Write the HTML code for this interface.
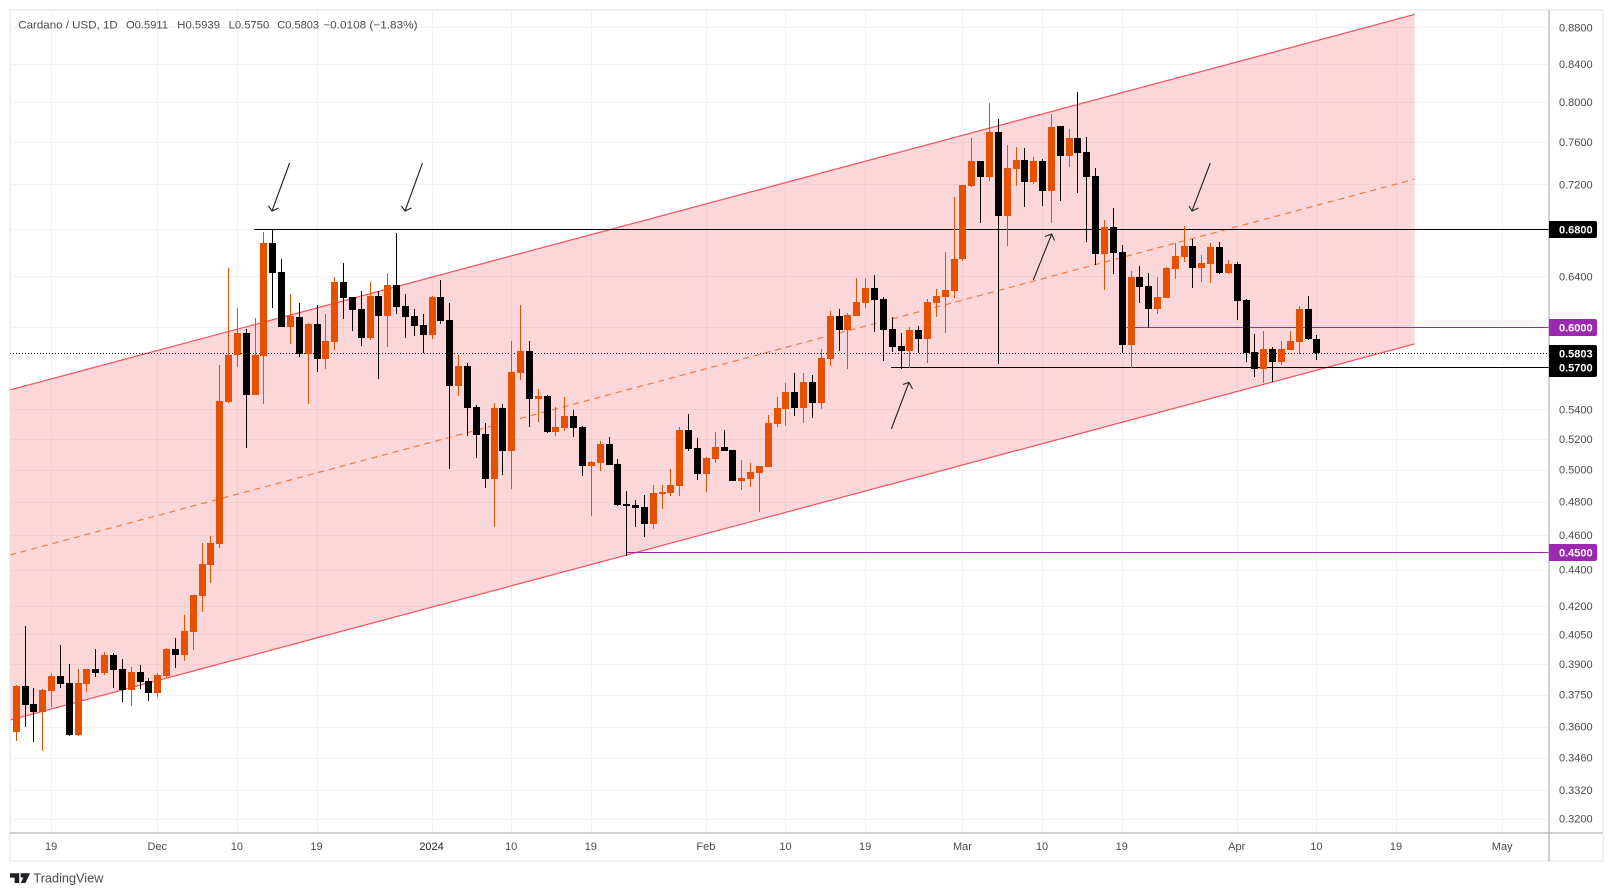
<!DOCTYPE html>
<html lang="en">
<head>
<meta charset="utf-8">
<title>Cardano / USD, 1D</title>
<style>
html,body{margin:0;padding:0;background:#fff;width:1613px;height:896px;overflow:hidden}
svg{display:block}
text{font-family:"Liberation Sans",sans-serif}
</style>
</head>
<body>
<svg id="chart" xmlns="http://www.w3.org/2000/svg" width="1613" height="896" viewBox="0 0 1613 896">
  <defs><clipPath id="plot-clip"><rect x="10.5" y="10.5" width="1538.5" height="822.5"/></clipPath></defs>
  <rect x="10" y="10" width="1593" height="851" fill="#fff" stroke="#f0f0f5" stroke-width="2"/>
  <g id="grid"></g>
  <g id="drawings" clip-path="url(#plot-clip)"></g>
  <g id="candles" clip-path="url(#plot-clip)"></g>
  <g fill="none" stroke="#222" stroke-width="1.1">
    <path d="M289.6 163L272 211M268.5 206L272 211L278.5 208"/>
    <path d="M422.5 163L405 211M401.5 206L405 211L411.5 208"/>
    <path d="M891.3 429L909 382.3M903 384.5L909 382.3L912.5 389"/>
    <path d="M1033.3 280L1051.7 234M1045 236.5L1051.7 234L1054.5 240.5"/>
    <path d="M1210.3 163L1192 211M1189 206L1192 211L1198.5 208"/>
  </g>
  <line x1="10" y1="833" x2="1603" y2="833" stroke="#a6a6a9" stroke-width="1" shape-rendering="crispEdges"/>
  <line x1="1549" y1="10" x2="1549" y2="861" stroke="#a6a6a9" stroke-width="1" shape-rendering="crispEdges"/>
  <g id="price-axis"></g>
  <g id="time-axis"></g>
  <g id="badges"></g>
  <g font-size="11" fill="#4b4b50">
    <text x="18.3" y="28.5" textLength="99.4" lengthAdjust="spacingAndGlyphs">Cardano / USD, 1D</text>
    <text x="126" y="28.5" textLength="42" lengthAdjust="spacingAndGlyphs">O0.5911</text>
    <text x="177.3" y="28.5" textLength="42.7" lengthAdjust="spacingAndGlyphs">H0.5939</text>
    <text x="228.7" y="28.5" textLength="40.6" lengthAdjust="spacingAndGlyphs">L0.5750</text>
    <text x="277.3" y="28.5" textLength="41.7" lengthAdjust="spacingAndGlyphs">C0.5803</text>
    <text x="323.3" y="28.5" textLength="94.2" lengthAdjust="spacingAndGlyphs">−0.0108 (−1.83%)</text>
  </g>
  <g>
    <path fill="#1f1f24" d="M10 873.2H19.2V883H14.6V877.6H10ZM20.6 873.2H30L25.4 883H20.8L24 876.2A1.7 1.7 0 1 1 20.6 875.6Z"/>
    <text x="33.4" y="882.6" font-size="13" fill="#4b4b50" textLength="70" lengthAdjust="spacingAndGlyphs">TradingView</text>
  </g>
</svg>
<script>
// OHLC values, one entry per daily candle beginning 15 Nov 2023
var opens = [
.3575,.3792,.3705,.3668,.3768,.3841,.3806,.3562,.3802,.3875,
.3856,.3945,.3875,.3772,.3861,.3816,.3758,.3841,.3976,.3945,
.4063,.4254,.4426,.4547,.5451,.5789,.5955,.5500,.5782,.6680,
.6437,.6000,.6077,.5797,.6023,.5759,.5886,.6355,.6235,.6140,
.5916,.6243,.6085,.6331,.6164,.6085,.6015,.5939,.6235,.6054,
.5564,.5708,.5417,.5233,.4940,.5410,.5121,.5658,.5819,.5472,
.5493,.5247,.5273,.5355,.5280,.5024,.5043,.5167,.5036,.4785,
.4779,.4767,.4664,.4846,.4853,.4897,.5260,.5141,.4972,.5069,
.5147,.5128,.4928,.4940,.4979,.5017,.5300,.5403,.5522,.5410,
.5593,.5444,.5759,.6085,.5977,.6085,.6187,.6307,.6219,.5985,
.5856,.5819,.5977,.5908,.6187,.6235,.6283,.6545,.7185,.7419,
.7268,.7699,.6915,.7344,.7428,.7222,.7419,.7140,.7759,.7466,
.7640,.7505,.7278,.6587,.6818,.6604,.5864,.6396,.6323,.6140,
.6227,.6462,.6562,.6655,.6470,.6503,.6646,.6429,.6503,.6211,
.5812,.5687,.5834,.5737,.5826,.5886,.6140,.5911];
var highs = [
.3795,.4094,.3782,.3776,.3854,.3996,.3900,.3875,.3875,.3976,
.3960,.3955,.3925,.3885,.3895,.3831,.3856,.3981,.4031,.4152,
.4260,.4553,.4594,.5716,.6470,.6148,.5985,.6070,.6775,.6800,
.6545,.6259,.6187,.6031,.6172,.6101,.6396,.6511,.6235,.6283,
.6355,.6283,.6429,.6766,.6259,.6140,.6101,.6243,.6371,.6187,
.5789,.5730,.5431,.5307,.5444,.5437,.5894,.6172,.5894,.5543,
.5500,.5417,.5486,.5396,.5287,.5056,.5186,.5213,.5069,.4865,
.4809,.4840,.4903,.4903,.5004,.5280,.5368,.5206,.5082,.5247,
.5260,.5128,.5062,.5043,.5024,.5361,.5486,.5586,.5658,.5658,
.5643,.5834,.6124,.6140,.6109,.6387,.6387,.6412,.6235,.6077,
.5955,.6000,.6008,.6219,.6299,.6604,.7085,.7195,.7640,.7419,
.7990,.7828,.7572,.7553,.7543,.7457,.7438,.7879,.7759,.7729,
.8103,.7650,.7353,.6879,.6986,.6664,.6445,.6487,.6429,.6396,
.6478,.6680,.6827,.6715,.6578,.6680,.6689,.6536,.6520,.6219,
.5947,.5970,.5849,.5894,.5970,.6164,.6243,.5939];
var lows = [
.3535,.3598,.3530,.3490,.3691,.3782,.3557,.3557,.3763,.3836,
.3846,.3782,.3715,.3696,.3777,.3719,.3739,.3831,.3880,.3915,
.3971,.4168,.4326,.4524,.5444,.5701,.5141,.5500,.5437,.6148,
.6000,.5871,.5774,.5437,.5665,.5687,.5826,.6062,.5970,.5856,
.5901,.5614,.5849,.6101,.5916,.5932,.5804,.5908,.6023,.5004,
.5493,.5220,.5075,.4884,.4647,.4966,.4878,.5607,.5280,.5314,
.5240,.5220,.5253,.5213,.4960,.4712,.4992,.5030,.4773,.4477,
.4647,.4588,.4635,.4755,.4834,.4834,.5121,.4934,.4859,.5043,
.5121,.4928,.4871,.4890,.4736,.5017,.5280,.5287,.5355,.5307,
.5341,.5403,.5708,.5819,.5687,.6085,.6148,.5962,.5745,.5812,
.5687,.5694,.5804,.5730,.6077,.5955,.6227,.6528,.7176,.6853,
.7231,.5723,.6655,.7185,.6995,.7204,.7003,.6853,.7049,.7362,
.7122,.6689,.6495,.6291,.6421,.5804,.5694,.6187,.5992,.6101,
.6227,.6379,.6520,.6307,.6355,.6347,.6421,.6421,.6054,.5737,
.5629,.5586,.5593,.5716,.5826,.5797,.5901,.5750];
var closes = [
.3792,.3700,.3668,.3772,.3841,.3802,.3562,.3806,.3875,.3856,
.3945,.3870,.3772,.3861,.3811,.3758,.3846,.3976,.3945,.4068,
.4260,.4432,.4553,.5458,.5789,.5955,.5500,.5789,.6680,.6429,
.6000,.6085,.5797,.6023,.5759,.5894,.6355,.6227,.6133,.5916,
.6243,.6085,.6331,.6156,.6077,.6008,.5939,.6235,.6046,.5564,
.5708,.5410,.5226,.4940,.5410,.5121,.5665,.5819,.5472,.5493,
.5247,.5280,.5355,.5273,.5024,.5049,.5167,.5030,.4779,.4773,
.4761,.4664,.4853,.4859,.4903,.5260,.5134,.4972,.5075,.5147,
.5121,.4928,.4947,.4985,.5024,.5307,.5410,.5522,.5410,.5593,
.5444,.5767,.6085,.5977,.6093,.6195,.6307,.6211,.5977,.5849,
.5819,.5977,.5908,.6195,.6243,.6291,.6545,.7195,.7419,.7268,
.7699,.6915,.7353,.7428,.7222,.7419,.7140,.7749,.7466,.7640,
.7495,.7268,.6587,.6818,.6595,.5864,.6396,.6315,.6140,.6235,
.6470,.6570,.6655,.6470,.6511,.6646,.6429,.6503,.6203,.5804,
.5687,.5834,.5737,.5834,.5894,.6140,.5908,.5803];
var firstCandleDay = -4; // days relative to 19 Nov

var priceTicks = [0.88,0.84,0.80,0.76,0.72,0.64,0.54,0.52,0.50,0.48,0.46,0.44,0.42,0.405,0.39,0.375,0.36,0.346,0.332,0.32];
var gridOnlyPrices = [0.68,0.60];
var timeLabels = ['19','Dec','10','19','2024','10','19','Feb','10','19','Mar','10','19','Apr','10','19','May'];
var timeDays = [0,12,21,30,43,52,61,74,83,92,103,112,121,134,143,152,164];

var channelDays = [-4.645,154.1];
var channelUpper = [0.5536,0.8947];
var channelMiddle = [0.4483,0.7248];
var channelLower = [0.3630,0.5871];

var blackLevelPrices = [0.68,0.57];
var blackLevelStartDays = [22.93,94.93];
var purpleLevelPrices = [0.60,0.45];
var purpleLevelStartDays = [121.56,65.05];
var lastPrice = 0.5803;

function xScale(day){ return 51.1 + 8.848 * day; }
function yScale(price){ return 27.4 + 782.2 * Math.log(0.88 / price); }
var SVGNS = 'http://www.w3.org/2000/svg';
function add(parent, tag){
  var el = document.createElementNS(SVGNS, tag);
  parent.appendChild(el);
  return el;
}
function fmt(p){ return p.toFixed(4); }

var gridG = document.getElementById('grid');
priceTicks.concat(gridOnlyPrices).forEach(function(p){
  var el = add(gridG, 'line');
  
  
  var y = Math.round(yScale(p)) + 0.5;
  el.setAttribute('x1', 11); el.setAttribute('x2', 1549);
  el.setAttribute('y1', y); el.setAttribute('y2', y);
  el.setAttribute('stroke', '#f2f3f6');
});
timeDays.forEach(function(d){
  var el = add(gridG, 'line');
  
  
  var x = Math.round(xScale(d)) + 0.5;
  el.setAttribute('x1', x); el.setAttribute('x2', x);
  el.setAttribute('y1', 11); el.setAttribute('y2', 833);
  el.setAttribute('stroke', '#f2f3f6');
});

var drawG = document.getElementById('drawings');
var channel = add(drawG, 'polygon');


channel.setAttribute('points', [
  xScale(channelDays[0]) + ',' + yScale(channelUpper[0]),
  xScale(channelDays[1]) + ',' + yScale(channelUpper[1]),
  xScale(channelDays[1]) + ',' + yScale(channelLower[1]),
  xScale(channelDays[0]) + ',' + yScale(channelLower[0])
].join(' '));
channel.setAttribute('fill', 'rgba(242,54,69,0.2)');

function channelLine(prices, colour, width, dash){
  var el = add(drawG, 'line');
  el.setAttribute('x1', xScale(channelDays[0])); el.setAttribute('y1', yScale(prices[0]));
  el.setAttribute('x2', xScale(channelDays[1])); el.setAttribute('y2', yScale(prices[1]));
  el.setAttribute('stroke', colour);
  el.setAttribute('stroke-width', width);
  if (dash) el.setAttribute('stroke-dasharray', dash);
  return el;
}
var upperLine = channelLine(channelUpper, '#f4515e', 1.2);


var middleLine = channelLine(channelMiddle, '#f07a3c', 1.2, '6 5');


var lowerLine = channelLine(channelLower, '#f4515e', 1.2);



function levelLine(price, startDay, colour){
  var el = add(drawG, 'line');
  var y = Math.round(yScale(price)) + 0.5;
  el.setAttribute('x1', xScale(startDay)); el.setAttribute('x2', 1549);
  el.setAttribute('y1', y); el.setAttribute('y2', y);
  el.setAttribute('stroke', colour);
  el.setAttribute('stroke-width', 1);
  el.setAttribute('shape-rendering', 'crispEdges');
  return el;
}
blackLevelPrices.forEach(function(p, i){
  var el = levelLine(p, blackLevelStartDays[i], '#000');
  
  
});
purpleLevelPrices.forEach(function(p, i){
  var el = levelLine(p, purpleLevelStartDays[i], '#9c27b0');
  
  
});
var lastLine = add(drawG, 'line');


var lastY = Math.round(yScale(lastPrice)) + 0.5;
lastLine.setAttribute('x1', 10); lastLine.setAttribute('x2', 1547);
lastLine.setAttribute('y1', lastY); lastLine.setAttribute('y2', lastY);
lastLine.setAttribute('stroke', '#000');
lastLine.setAttribute('stroke-dasharray', '1 2');

var candleG = document.getElementById('candles');
opens.forEach(function(o, i){
  var c = closes[i], day = i + firstCandleDay;
  var colour = c >= o ? '#e65100' : '#000000';
  var cx = Math.round(xScale(day));
  var top = Math.round(yScale(Math.max(o, c)));
  var bottom = Math.round(yScale(Math.min(o, c)));
  var wickTop = Math.round(yScale(highs[i]));
  var wickBottom = Math.round(yScale(lows[i]));
  var g = add(candleG, 'g');
  
  
  g.setAttribute('fill', colour);
  g.setAttribute('shape-rendering', 'crispEdges');
  var wick = add(g, 'rect');
  
  
  wick.setAttribute('x', cx); wick.setAttribute('width', 1);
  wick.setAttribute('y', wickTop); wick.setAttribute('height', Math.max(1, wickBottom - wickTop));
  var body = add(g, 'rect');
  
  
  body.setAttribute('x', cx - 3); body.setAttribute('width', 7);
  body.setAttribute('y', top); body.setAttribute('height', Math.max(1, bottom - top));
});

var priceG = document.getElementById('price-axis');
priceTicks.forEach(function(p){
  var t = add(priceG, 'text');
  
  
  t.setAttribute('x', 1559);
  t.setAttribute('y', yScale(p) + 4);
  t.setAttribute('font-size', 11);
  t.setAttribute('fill', '#4b4b50');
  t.textContent = fmt(p);
});

var timeG = document.getElementById('time-axis');
timeLabels.forEach(function(label, i){
  var t = add(timeG, 'text');
  
  
  t.setAttribute('x', xScale(timeDays[i]));
  t.setAttribute('y', 850);
  t.setAttribute('font-size', 11);
  t.setAttribute('text-anchor', 'middle');
  t.setAttribute('fill', label === '2024' ? '#222226' : '#4b4b50');
  t.textContent = label;
});

var badgeG = document.getElementById('badges');
function badgeRect(top, height, colour){
  var r = add(badgeG, 'path');
  r.setAttribute('d', 'M1549 ' + top + 'H1595a2 2 0 0 1 2 2V' + (top + height - 2) + 'a2 2 0 0 1 -2 2H1549Z');
  r.setAttribute('fill', colour);
  return r;
}
function badgeText(price){
  var t = add(badgeG, 'text');
  t.setAttribute('x', 1559);
  t.setAttribute('y', yScale(price) + 4.3);
  t.setAttribute('font-size', 11);
  t.setAttribute('font-weight', '700');
  t.setAttribute('fill', '#fff');
  t.textContent = fmt(price);
  return t;
}
var b1 = badgeRect(Math.round(yScale(0.68)) - 8, 17, '#000');


var b2 = badgeRect(Math.round(yScale(0.60)) - 8, 17, '#9c27b0');


var b3 = badgeRect(Math.round(yScale(lastPrice)) - 8, 32, '#000');


var b4 = badgeRect(Math.round(yScale(0.45)) - 8, 17, '#9c27b0');


[0.68, 0.60, lastPrice, 0.57, 0.45].forEach(function(p){
  var t = badgeText(p);
  
  
});
</script>
</body>
</html>
